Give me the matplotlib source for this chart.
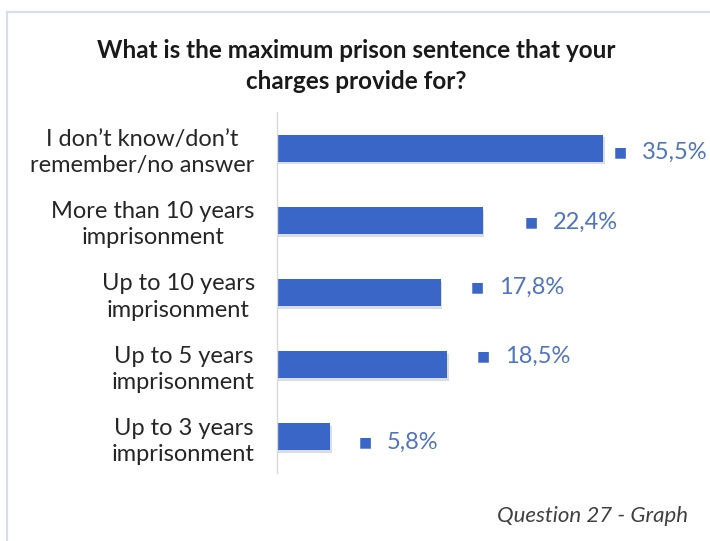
import matplotlib.pyplot as plt
from matplotlib.patches import Rectangle
import matplotlib.patheffects as pe

plt.rcParams['font.family'] = ['Lato', 'DejaVu Sans']

categories = [
    'I don\u2019t know/don\u2019t\nremember/no answer',
    'More than 10 years\nimprisonment',
    'Up to 10 years\nimprisonment',
    'Up to 5 years\nimprisonment',
    'Up to 3 years\nimprisonment',
]
values = [35.5, 22.4, 17.8, 18.5, 5.8]

# label placement (pixels from the bar end): horizontal gap, vertical shift
label_dx = [10, 42, 30, 30, 28]
label_dy = [-4, -2, 5, 8, -5]

bar_color = '#3a66c8'
label_color = '#4f74c2'

fig = plt.figure(figsize=(7.1, 5.41), dpi=100)
fig.patch.set_facecolor('white')

# light frame round the chart area
fig.add_artist(Rectangle((7 / 710, -0.05), 1.1, (541 - 12) / 541 + 0.05,
                         transform=fig.transFigure, fill=False,
                         edgecolor='#d9dde6', linewidth=1.6))

ax = fig.add_axes([277 / 710, 68 / 541, 423 / 710, 361 / 541])
y = list(range(len(categories)))
bars = ax.barh(y, values, height=0.375, color=bar_color, zorder=2)
for b in bars:
    b.set_path_effects([pe.SimplePatchShadow(offset=(1, -2), alpha=0.15), pe.Normal()])

ax.set_xlim(0, 46)
ax.set_ylim(len(categories) - 0.5, -0.5)
ax.set_yticks(y)
ax.set_yticklabels(categories, fontsize=17, color='#262626', multialignment='center',
                   linespacing=1.3)
ax.tick_params(axis='y', length=0, pad=16)
ax.set_xticks([])
for s in ['top', 'right', 'bottom']:
    ax.spines[s].set_visible(False)
ax.spines['left'].set_color('#d9d9d9')
ax.spines['left'].set_linewidth(1.0)

for i, v in enumerate(values):
    ax.annotate('\u25a0', xy=(v, i), xytext=(label_dx[i], label_dy[i]),
                textcoords='offset pixels', ha='left', va='center',
                fontsize=10, color=bar_color, family='DejaVu Sans')
    ax.annotate(f'{v:.1f}'.replace('.', ',') + '%', xy=(v, i),
                xytext=(label_dx[i] + 28, label_dy[i]),
                textcoords='offset pixels', ha='left', va='center',
                fontsize=17, color=label_color)

fig.text(356 / 710, 1 - 66 / 541,
         'What is the maximum prison sentence that your\ncharges provide for?',
         ha='center', va='center', fontsize=17.5, fontweight='bold', color='#1a1a1a',
         linespacing=1.4)

fig.text(688 / 710, 1 - 516 / 541, 'Question 27 - Graph', ha='right', va='center',
         fontsize=16, style='italic', color='#404040')

fig.savefig('out.png', dpi=100, facecolor='white')
